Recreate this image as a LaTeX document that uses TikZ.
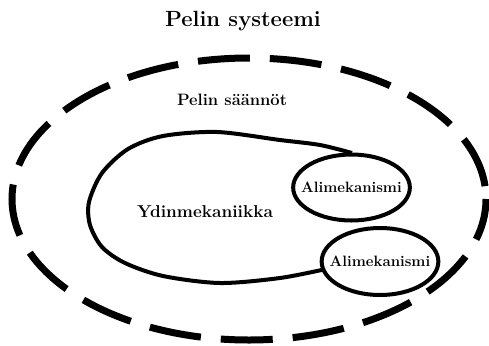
\documentclass[tikz,border=0pt]{standalone}
\usepackage{tikz}
\usetikzlibrary{shapes.geometric}

\begin{document}
\begin{tikzpicture}[x=1pt,y=-1pt,
  sub/.style={draw, ellipse, fill=white, line width=4pt, inner xsep=-9pt, inner ysep=0pt,
    minimum width=110pt, minimum height=66pt, font=\fontsize{15}{17}\selectfont\bfseries}]
\useasboundingbox (0,0) rectangle (489,345);

\node[] (S) at (243,21) {\fontsize{22}{26}\selectfont\bfseries Pelin systeemi};

\draw[line width=7pt, dash pattern=on 52pt off 20pt, dash phase=10pt] (249,199) ellipse [x radius=237, y radius=141];

\node[] (R) at (232,100) {\fontsize{16.5}{19}\selectfont\bfseries Pelin säännöt};

% core mechanic, ends at the two sub-mechanics
\draw[line width=4pt] plot[smooth] coordinates {(352,153) (320,145) (280,140) (217,132) (163,136) (128,149) (102,173) (89,202) (90,225) (102,247) (125,263) (163,276) (220,283) (280,278) (326,269)};

\node[] (Y) at (205,212) {\fontsize{17.2}{20}\selectfont\bfseries Ydinmekaniikka};

\node[sub] (A1) at (351.5,187.5) {Alimekanismi};
\node[sub, minimum height=67pt] (A2) at (380,261.5) {Alimekanismi};
\end{tikzpicture}
\end{document}
